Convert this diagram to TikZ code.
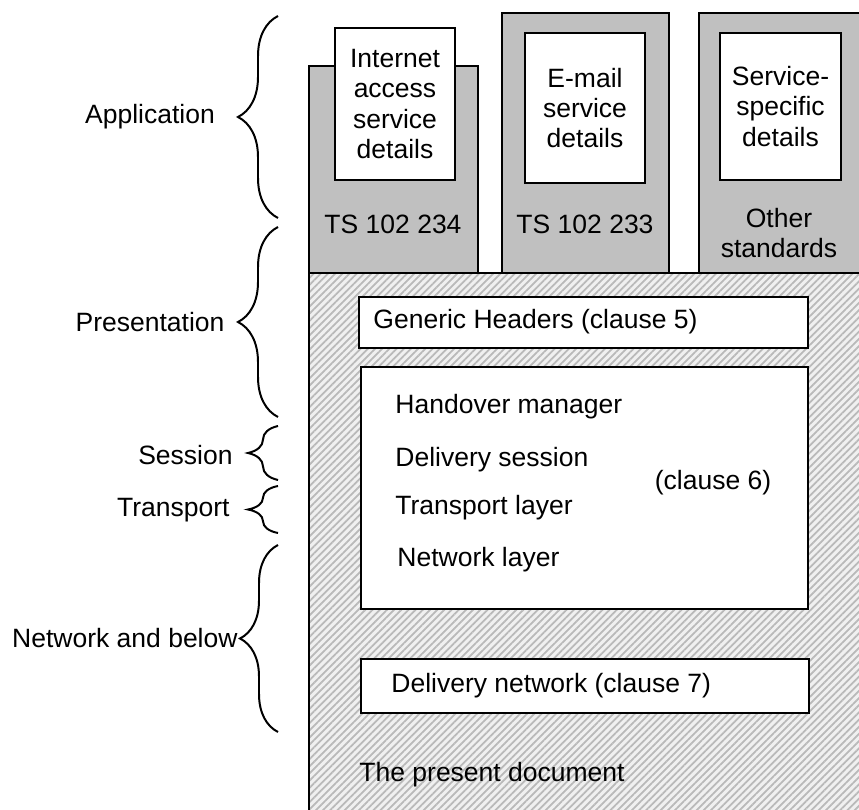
\documentclass[tikz,border=0pt]{standalone}
\usepackage{fontspec}
\setmainfont{Liberation Sans}
\usetikzlibrary{patterns.meta,decorations.pathreplacing}
\definecolor{boxgray}{RGB}{192,192,192}
\newcommand{\pxu}{0.4528pt}

\begin{document}
\begin{tikzpicture}[x=0.4528pt,y=-0.4528pt,font=\fontsize{12}{13.6}\selectfont]
\tikzset{stdbox/.style = {draw,fill=boxgray,line width=0.6pt}}
\tikzset{whitebox/.style = {draw,fill=white,line width=0.6pt,align=center,inner sep=0pt}}
\tikzset{txt/.style = {inner sep=0pt}}
\tikzset{layerbrace/.style = {decorate,decoration={brace,amplitude=#1},line width=0.9pt}}
\tikzset{hatched/.style = {fill=gray!12,postaction={pattern={Lines[angle=45,distance=2.3pt,line width=0.8pt]},pattern color=gray!55}}}
\useasboundingbox (0,0) rectangle (859,810);
\clip (0,0) rectangle (859,810);
% the present document
\fill[hatched] (309,273) rectangle (880,840);
\draw[line width=0.6pt] (309,840) -- (309,273) -- (880,273);
% other standards on top
\draw[stdbox] (309,66) rectangle (478,273);
\draw[stdbox] (502,13) rectangle (669,273);
\draw[stdbox] (699,13) rectangle (880,273);
\node[whitebox,minimum width=120*\pxu,minimum height=152*\pxu] (inet) at (395,104) {Internet\\access\\service\\details};
\node[whitebox,minimum width=120*\pxu,minimum height=150*\pxu] (email) at (585,108) {E-mail\\service\\details};
\node[whitebox,minimum width=121*\pxu,minimum height=147*\pxu] (spec) at (780.5,106.5) {Service-\\specific\\details};
\node[txt] (ts234) at (393,224) {TS 102 234};
\node[txt] (ts233) at (585,224) {TS 102 233};
\node[txt,align=center] (other) at (779,233) {Other\\standards};
% clauses
\node[whitebox,minimum width=449*\pxu,minimum height=51*\pxu] (generic) at (583.5,322.5) {};
\node[txt,anchor=west] (generictxt) at (373,322) {Generic Headers (clause 5)};
\node[whitebox,minimum width=447*\pxu,minimum height=242*\pxu] (core) at (584.5,488) {};
\node[txt,anchor=west] (handover) at (395,407) {Handover manager};
\node[txt,anchor=west] (session) at (395,460) {Delivery session};
\node[txt,anchor=west] (transport) at (395,508) {Transport layer};
\node[txt,anchor=west] (network) at (397,560) {Network layer};
\node[txt] (clausesix) at (713,483) {(clause 6)};
\node[whitebox,minimum width=448*\pxu,minimum height=54*\pxu] (delivery) at (585,686) {};
\node[txt,anchor=west] (deliverytxt) at (391,686) {Delivery network (clause 7)};
\node[txt,anchor=west] (present) at (359,775) {The present document};
% layers
\draw[layerbrace=40*\pxu] (278,218) -- (278,16);
\draw[layerbrace=40*\pxu] (278,417) -- (278,227);
\draw[layerbrace=30*\pxu] (278,480) -- (278,426);
\draw[layerbrace=30*\pxu] (278,533) -- (278,486);
\draw[layerbrace=38*\pxu] (278,732) -- (278,545);
\node[txt] (app) at (150,117) {Application};
\node[txt] (pres) at (150,322) {Presentation};
\node[txt,anchor=east] (sess) at (233,455) {Session};
\node[txt,anchor=east] (trans) at (230,510) {Transport};
\node[txt,anchor=east] (netw) at (238,638) {Network and below};
\end{tikzpicture}
\end{document}
